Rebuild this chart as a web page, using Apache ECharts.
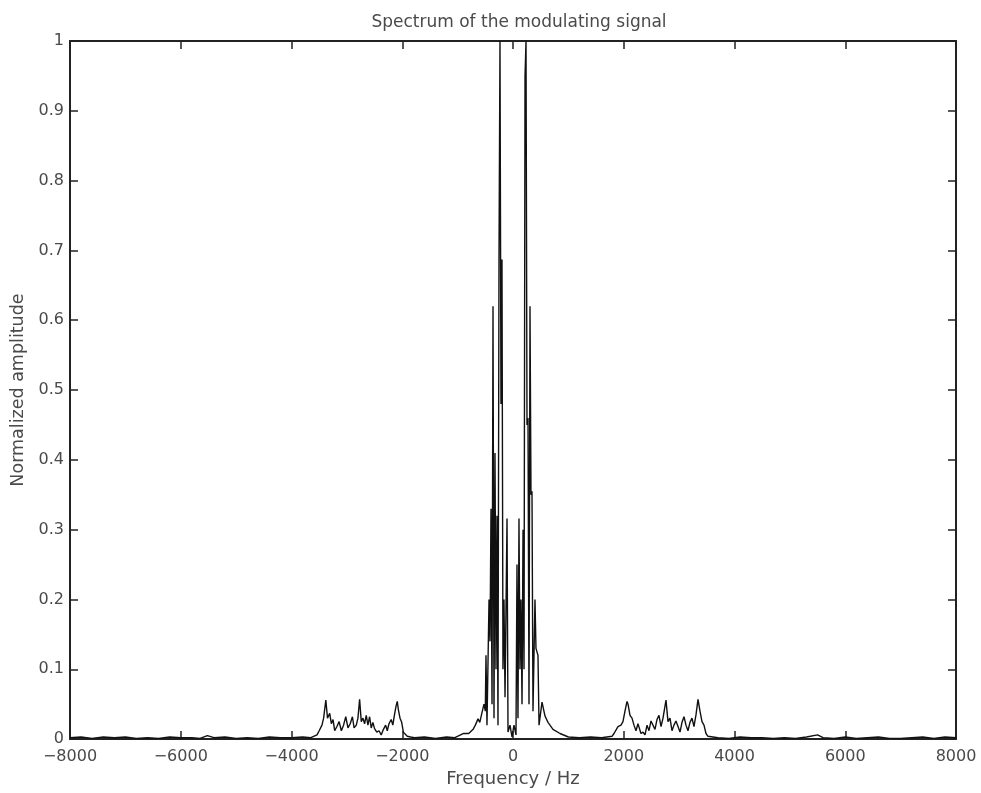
<!DOCTYPE html>
<html>
<head>
<meta charset="utf-8">
<title>Spectrum of the modulating signal</title>
<script src="https://cdn.jsdelivr.net/npm/echarts@6/dist/echarts.min.js"></script>
<style>
  html, body { margin: 0; padding: 0; background: #ffffff; }
  #chart { width: 981px; height: 793px; }
</style>
</head>
<body>
<div id="chart"></div>
<script>
// Frequency bins (Hz) of the spectrum trace
const freqHz = [
  -8000, -7800, -7600, -7400, -7200, -7000, -6800, -6600, -6400, -6200,
  -6000, -5800, -5650, -5520, -5400, -5200, -5000, -4800, -4600, -4400,
  -4200, -4000, -3800, -3650, -3540, -3500, -3450, -3420, -3380, -3350,
  -3310, -3280, -3250, -3220, -3180, -3140, -3100, -3060, -3020, -2980,
  -2940, -2900, -2870, -2830, -2800, -2770, -2740, -2710, -2680, -2650,
  -2620, -2590, -2560, -2530, -2500, -2460, -2420, -2380, -2340, -2300,
  -2270, -2240, -2200, -2170, -2140, -2110, -2090, -2070, -2040, -2010,
  -1980, -1950, -1910, -1850, -1780, -1600, -1400, -1200, -1050, -900,
  -800, -720, -680, -632, -600, -560, -524, -500, -488, -470,
  -433, -415, -397, -379, -361, -343, -325, -307, -289, -271,
  -253, -235, -217, -199, -181, -163, -144, -108, -90, -54,
  -18, 18, 54, 72, 90, 108, 126, 144, 163, 181,
  199, 217, 235, 253, 271, 289, 307, 325, 343, 361,
  397, 415, 451, 470, 524, 578, 632, 722, 849, 1000,
  1200, 1400, 1600, 1788, 1824, 1860, 1896, 1950, 1986, 2022,
  2059, 2077, 2113, 2149, 2185, 2221, 2257, 2284, 2311, 2348,
  2384, 2420, 2456, 2492, 2528, 2564, 2600, 2636, 2673, 2709,
  2763, 2799, 2835, 2871, 2907, 2943, 2980, 3016, 3052, 3088,
  3124, 3160, 3196, 3232, 3268, 3305, 3341, 3377, 3413, 3449,
  3485, 3521, 3557, 3700, 3900, 4100, 4300, 4500, 4700, 4900,
  5100, 5300, 5500, 5600, 5800, 6000, 6200, 6400, 6600, 6800,
  7000, 7200, 7400, 7600, 7800, 8000
];

// Normalized magnitude at each bin
const amplitude = [
  0.002, 0.003, 0.001, 0.003, 0.002, 0.003, 0.001, 0.002, 0.001, 0.003,
  0.002, 0.002, 0.001, 0.005, 0.002, 0.003, 0.001, 0.002, 0.001, 0.003,
  0.002, 0.002, 0.003, 0.002, 0.006, 0.012, 0.020, 0.030, 0.056, 0.030,
  0.037, 0.022, 0.028, 0.012, 0.018, 0.025, 0.012, 0.020, 0.032, 0.016,
  0.022, 0.032, 0.016, 0.020, 0.030, 0.057, 0.025, 0.030, 0.022, 0.034,
  0.020, 0.032, 0.016, 0.024, 0.015, 0.010, 0.012, 0.006, 0.014, 0.020,
  0.012, 0.022, 0.028, 0.020, 0.035, 0.048, 0.054, 0.042, 0.030, 0.024,
  0.010, 0.012, 0.004, 0.003, 0.002, 0.003, 0.001, 0.003, 0.002, 0.008,
  0.008, 0.014, 0.020, 0.029, 0.024, 0.038, 0.050, 0.040, 0.120, 0.020,
  0.200, 0.140, 0.330, 0.050, 0.620, 0.030, 0.410, 0.100, 0.320, 0.020,
  0.685, 1.000, 0.480, 0.687, 0.100, 0.200, 0.060, 0.316, 0.010, 0.020,
  0.003, 0.020, 0.006, 0.250, 0.030, 0.316, 0.100, 0.200, 0.050, 0.300,
  0.100, 0.950, 1.000, 0.450, 0.460, 0.050, 0.620, 0.350, 0.355, 0.040,
  0.200, 0.130, 0.120, 0.020, 0.053, 0.033, 0.024, 0.014, 0.008, 0.003,
  0.002, 0.003, 0.002, 0.004, 0.008, 0.010, 0.018, 0.020, 0.025, 0.040,
  0.054, 0.050, 0.034, 0.030, 0.020, 0.012, 0.022, 0.015, 0.008, 0.010,
  0.006, 0.020, 0.012, 0.026, 0.028, 0.014, 0.028, 0.034, 0.018, 0.030,
  0.056, 0.025, 0.030, 0.012, 0.020, 0.026, 0.018, 0.010, 0.024, 0.032,
  0.020, 0.012, 0.024, 0.030, 0.018, 0.035, 0.057, 0.040, 0.025, 0.020,
  0.008, 0.004, 0.002, 0.002, 0.001, 0.003, 0.002, 0.002, 0.001, 0.002,
  0.001, 0.003, 0.006, 0.002, 0.001, 0.003, 0.001, 0.002, 0.003, 0.001,
  0.001, 0.002, 0.003, 0.001, 0.003, 0.002
];

// Axis ticks
const freqTicks = { min: -8000, max: 8000, step: 2000 };
const ampTicks = { min: 0, max: 1, step: 0.1 };

const titleText = 'Spectrum of the modulating signal';
const xName = 'Frequency / Hz';
const yName = 'Normalized amplitude';

const trace = freqHz.map((f, i) => [f, amplitude[i]]);

const FONT = 'DejaVu Sans';
const TEXT_COLOR = '#4a4a4a';
const FRAME_COLOR = '#222222';

const frameLine = { show: true, onZero: false, lineStyle: { color: FRAME_COLOR, width: 2 } };
const innerTick = { show: true, inside: true, length: 8, lineStyle: { color: FRAME_COLOR, width: 1.5 } };

const chart = echarts.init(document.getElementById('chart'), null, { renderer: 'canvas' });

chart.setOption({
  animation: false,
  backgroundColor: '#ffffff',
  title: {
    text: titleText,
    left: 514,
    top: 9,
    textAlign: 'center',
    textStyle: { fontFamily: FONT, fontSize: 17, fontWeight: 'normal', color: TEXT_COLOR }
  },
  grid: { left: 70, right: 25, top: 41, bottom: 53, containLabel: false },
  xAxis: [
    {
      type: 'value',
      position: 'bottom',
      min: freqTicks.min,
      max: freqTicks.max,
      interval: freqTicks.step,
      name: xName,
      nameLocation: 'middle',
      nameGap: 28,
      nameTextStyle: { fontFamily: FONT, fontSize: 18, color: TEXT_COLOR },
      axisLine: frameLine,
      axisTick: innerTick,
      splitLine: { show: false },
      axisLabel: {
        margin: 10,
        fontFamily: FONT,
        fontSize: 16,
        color: TEXT_COLOR,
        formatter: v => String(v).replace('-', '\u2212')
      }
    },
    {
      type: 'value',
      position: 'top',
      min: freqTicks.min,
      max: freqTicks.max,
      interval: freqTicks.step,
      axisLine: frameLine,
      axisTick: innerTick,
      splitLine: { show: false },
      axisLabel: { show: false }
    }
  ],
  yAxis: [
    {
      type: 'value',
      position: 'left',
      min: ampTicks.min,
      max: ampTicks.max,
      interval: ampTicks.step,
      name: yName,
      nameLocation: 'middle',
      nameGap: 38,
      nameTextStyle: { fontFamily: FONT, fontSize: 17.5, color: TEXT_COLOR },
      axisLine: frameLine,
      axisTick: innerTick,
      splitLine: { show: false },
      axisLabel: {
        margin: 6,
        fontFamily: FONT,
        fontSize: 16,
        color: TEXT_COLOR,
        formatter: v => String(Math.round(v * 10) / 10)
      }
    },
    {
      type: 'value',
      position: 'right',
      min: ampTicks.min,
      max: ampTicks.max,
      interval: ampTicks.step,
      axisLine: frameLine,
      axisTick: innerTick,
      splitLine: { show: false },
      axisLabel: { show: false }
    }
  ],
  series: [
    {
      type: 'line',
      xAxisIndex: 0,
      yAxisIndex: 0,
      data: trace,
      showSymbol: false,
      symbol: 'none',
      smooth: false,
      clip: true,
      lineStyle: { color: '#111111', width: 1.4 }
    }
  ]
});
</script>
</body>
</html>
